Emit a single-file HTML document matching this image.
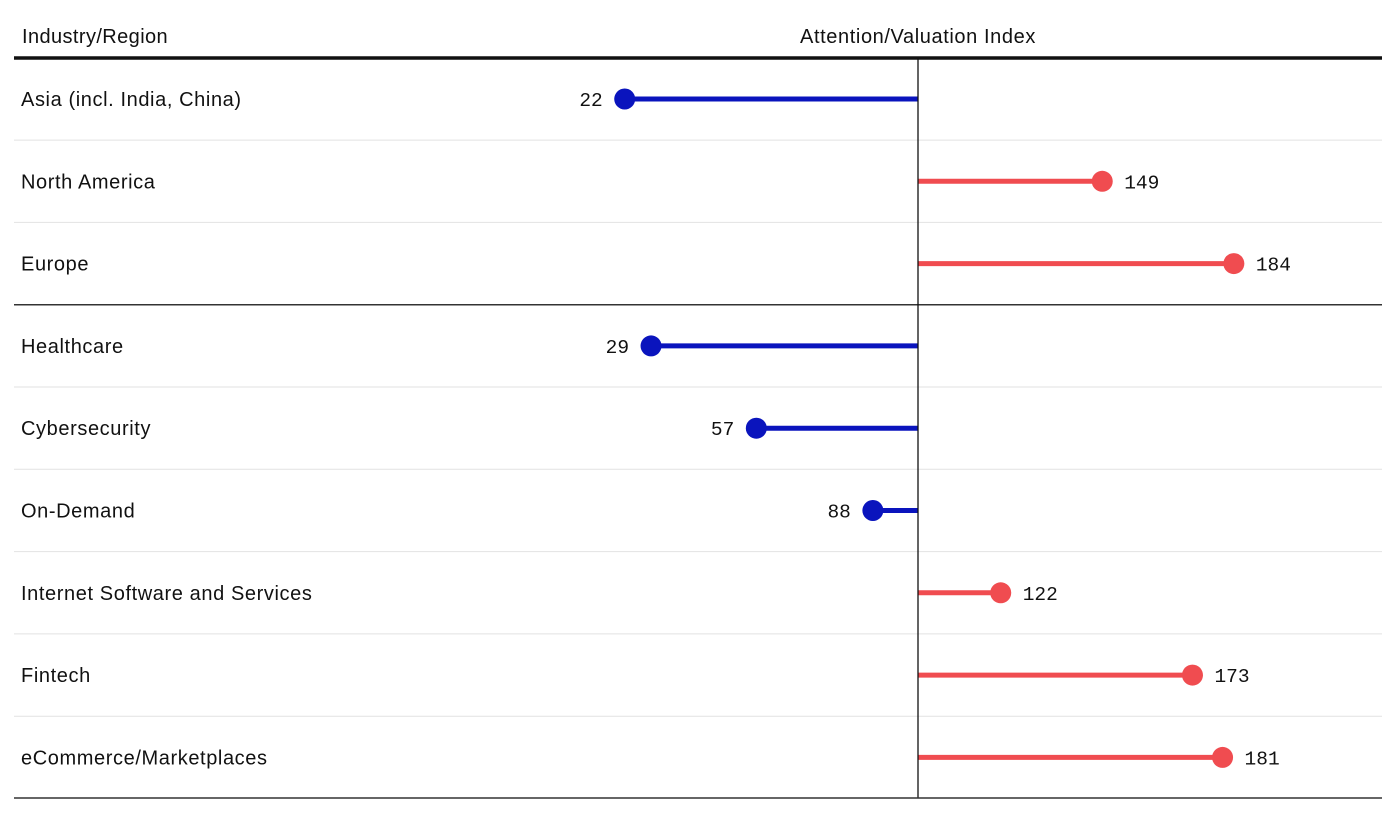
<!DOCTYPE html>
<html><head><meta charset="utf-8"><style>
body{margin:0;background:#fff;}
svg{display:block;font-family:"Liberation Sans",sans-serif;}
</style></head><body>
<svg id="chart" width="1400" height="818">
<text x="22" y="43" font-size="20" letter-spacing="0.4" fill="#111">Industry/Region</text>
<text x="918" y="43" font-size="20" letter-spacing="0.6" fill="#111" text-anchor="middle">Attention/Valuation Index</text>
<line x1="14" x2="1382" y1="58" y2="58" stroke="#111" stroke-width="3.5"/>
<g id="rows"></g>
<line x1="918" x2="918" y1="58" y2="798" stroke="#111" stroke-width="1.3"/>
<line x1="14" x2="1382" y1="798" y2="798" stroke="#333" stroke-width="1.5"/>
</svg>
<script>
const categories=["Asia (incl. India, China)","North America","Europe","Healthcare","Cybersecurity","On-Demand","Internet Software and Services","Fintech","eCommerce/Marketplaces"];
const values=[22,149,184,29,57,88,122,173,181];
const groupBreaks=[3];
const NS="http://www.w3.org/2000/svg";
const g=document.getElementById('rows');
const x=v=>918+(v-100)*3.76;
const rowY=i=>99+i*82.3;
function mk(t,a){const e=document.createElementNS(NS,t);for(const k in a)e.setAttribute(k,a[k]);return e;}
categories.forEach((c,i)=>{
  const y=rowY(i);
  if(i>0){
    const dark=groupBreaks.includes(i);
    const l=mk('line',{x1:14,x2:1382,y1:y-41.2,y2:y-41.2,stroke:dark?'#333':'#e2e2e2','stroke-width':dark?1.5:1});
    
    
    g.appendChild(l);
  }
  const t=mk('text',{x:21,y:y+7,'font-size':20,'letter-spacing':0.6,fill:'#111'});t.textContent=c;
  
  
  g.appendChild(t);
  const v=values[i],col=v<100?'#0a14bd':'#f04c50',px=x(v);
  const ln=mk('line',{x1:918,x2:px,y1:y,y2:y,stroke:col,'stroke-width':5});
  
  
  g.appendChild(ln);
  const d=mk('circle',{cx:px,cy:y,r:10.5,fill:col});
  
  
  g.appendChild(d);
  const vt=mk('text',{x:v<100?px-22:px+22,y:y+7,'font-size':19.5,fill:'#111','text-anchor':v<100?'end':'start','font-family':'"Liberation Mono",monospace'});
  vt.textContent=v;
  
  
  g.appendChild(vt);
});
</script>
</body></html>
